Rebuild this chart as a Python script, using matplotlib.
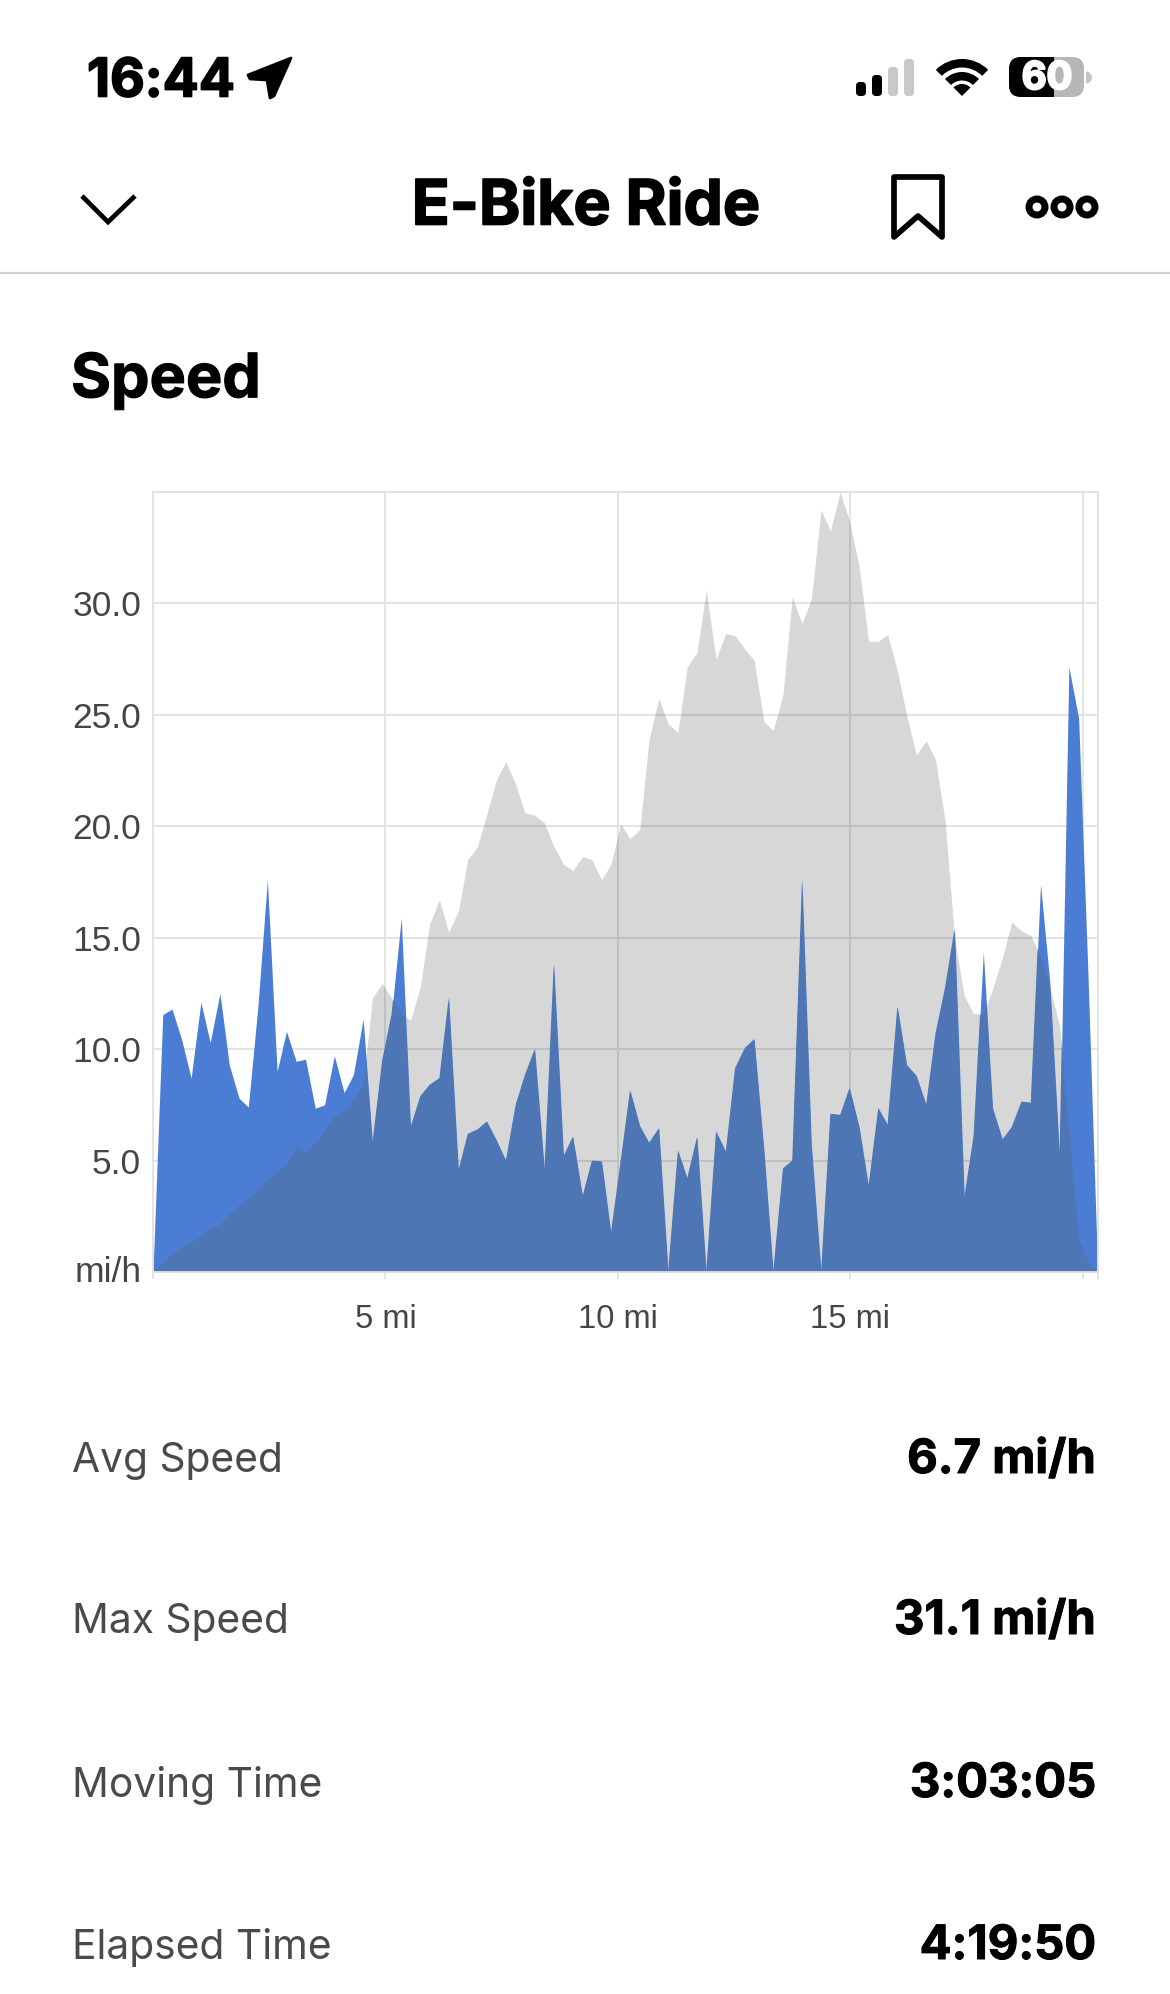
import numpy as np
import matplotlib
matplotlib.use("Agg")
from matplotlib import pyplot as plt
from matplotlib import patheffects as pe
from matplotlib.patches import Circle, FancyBboxPatch, Polygon, Rectangle, Wedge

W, H = 1170, 1994

# ride samples along the route
dist_mi = [0, .21, .41, .62, .82, 1.03, 1.23, 1.44, 1.64, 1.85,
           2.05, 2.26, 2.46, 2.67, 2.87, 3.08, 3.28, 3.49, 3.69, 3.90,
           4.11, 4.31, 4.52, 4.72, 4.93, 5.13, 5.34, 5.54, 5.75, 5.95,
           6.16, 6.36, 6.57, 6.77, 6.98, 7.18, 7.39, 7.59, 7.80, 8.00,
           8.21, 8.42, 8.62, 8.83, 9.03, 9.24, 9.44, 9.65, 9.85, 10.06,
           10.26, 10.47, 10.67, 10.88, 11.08, 11.29, 11.49, 11.70, 11.90, 12.11,
           12.32, 12.52, 12.73, 12.93, 13.14, 13.34, 13.55, 13.75, 13.96, 14.16,
           14.37, 14.57, 14.78, 14.98, 15.19, 15.39, 15.60, 15.80, 16.01, 16.21,
           16.42, 16.63, 16.83, 17.04, 17.24, 17.45, 17.65, 17.86, 18.06, 18.27,
           18.47, 18.68, 18.88, 19.09, 19.29, 19.50, 19.70, 19.91, 20.11, 20.32]

speed = [0, 11.55, 11.8, 10.4, 8.7, 12.1, 10.3, 12.5, 9.3, 7.8,
         7.4, 12.0, 17.6, 9.0, 10.8, 9.45, 9.55, 7.35, 7.5, 9.7,
         8.05, 8.85, 11.35, 5.8, 9.5, 11.55, 15.9, 6.5, 7.9, 8.4,
         8.7, 12.3, 4.55, 6.2, 6.4, 6.75, 5.9, 5.0, 7.5, 8.85,
         10.0, 4.55, 13.8, 5.2, 6.07, 3.4, 5.0, 4.96, 1.75, 5.0,
         8.15, 6.55, 5.8, 6.45, 0, 5.45, 4.2, 6.05, 0, 6.3,
         5.4, 9.15, 10.05, 10.45, 5.5, 0, 4.65, 5.0, 17.6, 5.75,
         0, 7.1, 7.05, 8.25, 6.5, 3.85, 7.35, 6.6, 11.9, 9.3,
         8.8, 7.5, 10.7, 12.8, 15.4, 3.35, 6.1, 14.35, 7.35, 5.95,
         6.5, 7.65, 7.6, 17.4, 13.0, 5.2, 27.15, 24.85, 13.4, 0]

# elevation profile drawn behind the speed
elevation = [0, 0.45, 0.8, 1.15, 1.35, 1.6, 2.0, 2.15, 2.6, 3.0,
             3.3, 3.7, 4.15, 4.5, 4.85, 5.6, 5.4, 5.8, 6.3, 6.95,
             7.25, 7.7, 8.45, 12.3, 12.95, 12.3, 11.55, 11.3, 12.8, 15.6,
             16.7, 15.25, 16.2, 18.5, 19.1, 20.55, 22.1, 22.9, 21.9, 20.6,
             20.5, 20.15, 19.1, 18.3, 18.0, 18.65, 18.5, 17.6, 18.3, 20.1,
             19.45, 19.85, 23.9, 25.75, 24.6, 24.2, 27.15, 27.8, 30.6, 27.5,
             28.65, 28.55, 27.95, 27.45, 24.7, 24.3, 25.9, 30.3, 29.1, 30.2,
             34.2, 33.25, 35.0, 33.7, 31.65, 28.3, 28.3, 28.6, 27.0, 25.0,
             23.2, 23.85, 23.0, 20.2, 15.0, 12.4, 11.6, 11.55, 12.7, 14.1,
             15.7, 15.3, 15.1, 14.15, 12.8, 11.05, 6.25, 1.55, 0.45, 0]

y_ticks = [0, 5, 10, 15, 20, 25, 30]
y_labels = ["mi/h", "5.0", "10.0", "15.0", "20.0", "25.0", "30.0"]
x_ticks = [0, 5, 10, 15, 20, 20.32]
x_labels = ["", "5 mi", "10 mi", "15 mi", "", ""]

stat_names = ["Avg Speed", "Max Speed", "Moving Time", "Elapsed Time"]
stat_values = ["6.7 mi/h", "31.1 mi/h", "3:03:05", "4:19:50"]
stat_rows = [1461, 1622, 1785, 1947]

plt.rcParams["font.family"] = ["Inter", "DejaVu Sans"]
GRID = "#e2e2e2"
TICK_TEXT = "#454545"


def heavy(width, col="black"):
    # Inter Bold is a little light for the app's headings, thicken it
    return [pe.withStroke(linewidth=width, foreground=col)]


fig = plt.figure(figsize=(W / 100, H / 100), dpi=100, facecolor="white")

# page layer in pixel coordinates, y pointing down
ui = fig.add_axes([0, 0, 1, 1])
ui.set_xlim(0, W)
ui.set_ylim(H, 0)
ui.axis("off")

# status bar
ui.text(87, 82, "16:44", fontsize=38.5, fontweight="bold", color="black", va="center", ha="left",
        path_effects=heavy(1.2))
ui.add_patch(Polygon([(291, 58), (274, 96), (270, 98), (267, 80), (250, 79), (248, 75)],
                     closed=True, color="black", joinstyle="round", lw=2))
for x0, top, col in [(856, 82, "black"), (872, 75, "black"), (888, 67, "#c9c9c9"), (904, 59, "#c9c9c9")]:
    ui.add_patch(FancyBboxPatch((x0 + 2, top + 2), 6, 96 - top - 4, boxstyle="round,pad=2,rounding_size=4",
                                fc=col, ec="none"))
ui.add_patch(Wedge((962, 96), 37, 225, 315, width=8.5, fc="black", ec="none"))
ui.add_patch(Wedge((962, 96), 24, 225, 315, width=8.5, fc="black", ec="none"))
ui.add_patch(Wedge((962, 96), 12, 225, 315, fc="black", ec="none"))
batt = FancyBboxPatch((1013, 61), 67, 32, boxstyle="round,pad=4,rounding_size=12", fc="#b7b7b7", ec="none")
ui.add_patch(batt)
batt_fill = Rectangle((1005, 55), 49, 45, fc="black", ec="none")
ui.add_patch(batt_fill)
batt_fill.set_clip_path(batt)
ui.add_patch(Wedge((1086, 77.5), 6, 270, 90, fc="#c4c4c4", ec="none"))
ui.text(1047, 79, "60", fontsize=27.5, fontweight="bold", color="white", va="center", ha="center",
        path_effects=heavy(1.6, "white"))

# navigation bar
ui.plot([82, 108, 135], [196, 222, 196], color="black", lw=3.4, solid_joinstyle="miter", solid_capstyle="butt")
ui.text(586, 208, "E-Bike Ride", fontsize=45, fontweight="bold", color="black", va="center", ha="center",
        path_effects=heavy(1.2))
ui.add_patch(Polygon([(894, 177), (942, 177), (942, 237), (918, 216), (894, 237)], closed=True,
                     fc="none", ec="black", lw=4.1, joinstyle="round"))
for cx in [1037, 1062, 1087]:
    ui.add_patch(Circle((cx, 207), 8, fc="none", ec="black", lw=5))
ui.plot([0, W], [273.5, 273.5], color="#cfcfcf", lw=1.6)

ui.text(71, 381, "Speed", fontsize=44, fontweight="bold", color="black", va="center", ha="left",
        path_effects=heavy(0.8))

# stats table under the chart
for name, value, y in zip(stat_names, stat_values, stat_rows):
    ui.text(72, y, name, fontsize=29.3, color="#4a4a4a", va="center", ha="left")
    ui.text(1096, y, value, fontsize=34, fontweight="bold", color="black", va="center", ha="right",
            path_effects=heavy(0.7))

# chart
left, right, top, bottom = 153, 1097.7, 492, 1272
ax = fig.add_axes([left / W, 1 - bottom / H, (right - left) / W, (bottom - top) / H], facecolor="none")
ax.set_xlim(0, 20.32)
ax.set_ylim(0, 35)
ax.set_axisbelow(True)
ax.grid(True, color=GRID, lw=1.3)
for side in ax.spines.values():
    side.set_color(GRID)
    side.set_linewidth(1.3)

ax.fill_between(dist_mi, 0, elevation, color="black", alpha=0.155, lw=0)
blue = ax.fill_between(dist_mi, 0, speed, color="#4a7dd3", lw=0)
# where speed sits over elevation the two fills blend to a duller blue
overlap = ax.fill_between(dist_mi, 0, elevation, color="#4e76b4", lw=0)
overlap.set_clip_path(blue.get_paths()[0], ax.transData)

ax.set_xticks(x_ticks)
ax.set_xticklabels(x_labels, fontsize=23.5, color=TICK_TEXT, family=["Liberation Sans"])
ax.set_yticks(y_ticks)
ax.set_yticklabels(y_labels, fontsize=25.5, color=TICK_TEXT, family=["Liberation Sans"])
ax.tick_params(axis="x", length=5, width=1.3, color=GRID, pad=18)
ax.tick_params(axis="y", length=0, pad=8.5)
ax.get_yticklabels()[0].set_verticalalignment("center")

fig.savefig("out.png", dpi=100)
